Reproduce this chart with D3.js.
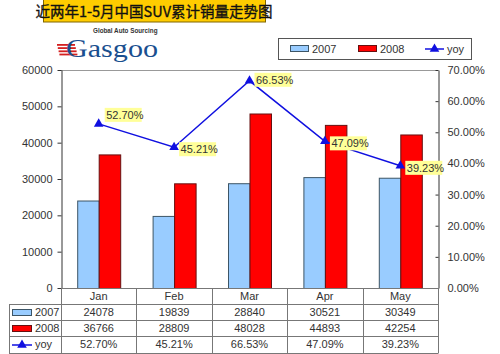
<!DOCTYPE html>
<html>
<head>
<meta charset="utf-8">
<script src="https://cdn.jsdelivr.net/npm/d3@7"></script>
<style>
  body { margin: 0; background: #fff; }
  svg { display: block; font-family: "Liberation Sans", Arial, sans-serif; }
</style>
</head>
<body>
<svg id="chart" width="500" height="354"></svg>
<script>
const title = '近两年1-5月中国SUV累计销量走势图'
const months = ['Jan', 'Feb', 'Mar', 'Apr', 'May']
const sales2007 = [24078, 19839, 28840, 30521, 30349]
const sales2008 = [36766, 28809, 48028, 44893, 42254]
const yoy = [52.70, 45.21, 66.53, 47.09, 39.23]
const leftTicks = [0, 10000, 20000, 30000, 40000, 50000, 60000]
const rightTicks = [0, 10, 20, 30, 40, 50, 60, 70]
const seriesNames = ['2007', '2008', 'yoy']

const blue = '#99ccff'
const red = '#ff0000'
const lineBlue = '#1010e0'
const textColor = '#333'
const gridColor = '#999'

const svg = d3.select('#chart')

const plotLeft = 61
const plotRight = 438
const plotTop = 70
const plotBottom = 288

const x = d3.scaleBand().domain(months).range([plotLeft, plotRight])
const xs = d3.scaleBand().domain(['2007', '2008']).range([0, 43])
const y = d3.scaleLinear().domain([0, 60000]).range([plotBottom, plotTop])
const y2 = d3.scaleLinear().domain([0, 70]).range([plotBottom, plotTop])

// title
svg.append('rect')
  .attr('x', 43.5).attr('y', -1).attr('width', 222).attr('height', 23)
  .attr('fill', '#ffcc00').attr('stroke', '#806600')
svg.append('text')
  .attr('x', 154).attr('y', 16.5)
  .attr('text-anchor', 'middle')
  .attr('font-family', '"Noto Sans CJK SC", sans-serif')
  .attr('font-size', 14.5)
  .attr('fill', '#111').attr('stroke', '#111').attr('stroke-width', 0.35)
  .text(title)

// logo
const logo = svg.append('g')
logo.selectAll('rect.stripe')
  .data([0, 1, 2, 3])
  .enter()
  .append('rect')
  .attr('x', (d) => 57 + d * 0.8).attr('y', (d) => 44 + d * 3.2)
  .attr('width', 18).attr('height', 1.8)
  .attr('fill', '#d42020')
logo.append('text')
  .attr('x', 66).attr('y', 57)
  .attr('font-family', '"Liberation Serif", "DejaVu Serif", serif')
  .attr('font-size', 25).attr('fill', '#1a4f8f')
  .attr('textLength', 92).attr('lengthAdjust', 'spacingAndGlyphs')
  .text('Gasgoo')
logo.append('text')
  .attr('x', 93).attr('y', 33)
  .attr('font-size', 6.3).attr('font-weight', 'bold').attr('fill', '#333')
  .text('Global Auto Sourcing')

// plot frame
svg.append('line')
  .attr('x1', plotLeft).attr('x2', plotRight).attr('y1', plotTop + 0.5).attr('y2', plotTop + 0.5)
  .attr('stroke', gridColor)

// left axis
const yAxis = svg.append('g')
  .attr('transform', `translate(${plotLeft + 0.5},0)`)
  .call(d3.axisLeft(y).tickValues(leftTicks).tickSize(4).tickPadding(5).tickSizeOuter(0)
    .tickFormat(d3.format('d')))
yAxis.select('.domain').attr('stroke', '#333')
yAxis.selectAll('line').attr('stroke', '#333')
yAxis.selectAll('text').attr('font-size', 11).attr('fill', textColor)
  .attr('font-family', '"Liberation Sans", Arial, sans-serif')

// right axis
const y2Axis = svg.append('g')
  .attr('transform', `translate(${plotRight + 0.5},0)`)
  .call(d3.axisRight(y2).tickValues(rightTicks).tickSize(-3).tickPadding(9).tickSizeOuter(0)
    .tickFormat((d) => d.toFixed(2) + '%'))
y2Axis.select('.domain').attr('stroke', '#333')
y2Axis.selectAll('line').attr('stroke', '#333')
y2Axis.selectAll('text').attr('font-size', 11).attr('fill', textColor)
  .attr('font-family', '"Liberation Sans", Arial, sans-serif')

// bars
const bars = svg.append('g')
const pad = (x.bandwidth() - 43) / 2
bars.selectAll('rect.b07')
  .data(sales2007)
  .enter()
  .append('rect')
  .attr('x', (d, i) => x(months[i]) + pad + xs('2007') + 0.5)
  .attr('y', (d) => y(d) + 0.5)
  .attr('width', xs.bandwidth())
  .attr('height', (d) => plotBottom - y(d))
  .attr('fill', blue).attr('stroke', '#3d5566')
bars.selectAll('rect.b08')
  .data(sales2008)
  .enter()
  .append('rect')
  .attr('x', (d, i) => x(months[i]) + pad + xs('2008') + 0.5)
  .attr('y', (d) => y(d) + 0.5)
  .attr('width', xs.bandwidth())
  .attr('height', (d) => plotBottom - y(d))
  .attr('fill', red).attr('stroke', '#661010')

// yoy line
const cx = (i) => x(months[i]) + x.bandwidth() / 2
const line = d3.line().x((d, i) => cx(i)).y((d) => y2(d))
svg.append('path')
  .attr('d', line(yoy))
  .attr('fill', 'none').attr('stroke', lineBlue).attr('stroke-width', 1.5)
const tri = d3.symbol().type(d3.symbolTriangle).size(40)
svg.selectAll('path.mark')
  .data(yoy)
  .enter()
  .append('path')
  .attr('d', tri)
  .attr('transform', (d, i) => `translate(${cx(i)},${y2(d)})`)
  .attr('fill', lineBlue)

// data labels
const labels = svg.append('g')
yoy.forEach((d, i) => {
  const px = cx(i)
  const py = y2(d)
  // first label sits above the marker, the others beside it
  const lx = i === 0 ? px + 6 : px + 5
  const ly = i === 0 ? py - 16 : (i === 2 ? py - 8 : py - 5)
  labels.append('rect')
    .attr('x', lx).attr('y', ly).attr('width', 37).attr('height', 14)
    .attr('fill', '#ffff99')
  labels.append('text')
    .attr('x', lx + 1.5).attr('y', ly + 11)
    .attr('font-size', 11).attr('fill', textColor)
    .text(d.toFixed(2) + '%')
})

// legend
const legend = svg.append('g')
legend.append('rect')
  .attr('x', 278.5).attr('y', 38.5).attr('width', 193).attr('height', 21)
  .attr('fill', '#fff').attr('stroke', '#555')
const legendX = [290, 358, 425]
legend.append('rect')
  .attr('x', legendX[0] + 0.5).attr('y', 45.5).attr('width', 18).attr('height', 6)
  .attr('fill', blue).attr('stroke', '#3d5566')
legend.append('rect')
  .attr('x', legendX[1] + 0.5).attr('y', 45.5).attr('width', 18).attr('height', 6)
  .attr('fill', red).attr('stroke', '#661010')
legend.append('line')
  .attr('x1', legendX[2]).attr('x2', legendX[2] + 19).attr('y1', 49).attr('y2', 49)
  .attr('stroke', lineBlue).attr('stroke-width', 1.5)
legend.append('path')
  .attr('d', tri).attr('transform', `translate(${legendX[2] + 9.5},49)`).attr('fill', lineBlue)
legend.selectAll('text')
  .data(seriesNames)
  .enter()
  .append('text')
  .attr('x', (d, i) => legendX[i] + 22)
  .attr('y', 53)
  .attr('font-size', 11).attr('fill', textColor)
  .text((d) => d)

// data table
const table = svg.append('g')
const rowY = [288, 304, 320, 336, 353]
const tableLeft = 9
const rows = [sales2007.map(String), sales2008.map(String), yoy.map((d) => d.toFixed(2) + '%')]
const tc = '#777'
// horizontal lines
rowY.forEach((ry, k) => {
  table.append('line')
    .attr('x1', k === 0 ? plotLeft : tableLeft).attr('x2', plotRight)
    .attr('y1', ry + 0.5).attr('y2', ry + 0.5)
    .attr('stroke', tc)
})
// vertical lines
table.append('line')
  .attr('x1', tableLeft + 0.5).attr('x2', tableLeft + 0.5)
  .attr('y1', rowY[1]).attr('y2', rowY[4] + 0.5).attr('stroke', tc)
months.forEach((m) => {
  table.append('line')
    .attr('x1', Math.round(x(m)) + 0.5).attr('x2', Math.round(x(m)) + 0.5)
    .attr('y1', rowY[0]).attr('y2', rowY[4] + 0.5).attr('stroke', tc)
})
table.append('line')
  .attr('x1', plotRight + 0.5).attr('x2', plotRight + 0.5)
  .attr('y1', rowY[0]).attr('y2', rowY[4] + 0.5).attr('stroke', tc)
// header
table.selectAll('text.month')
  .data(months)
  .enter()
  .append('text')
  .attr('x', (d) => x(d) + x.bandwidth() / 2)
  .attr('y', rowY[0] + 12)
  .attr('text-anchor', 'middle')
  .attr('font-size', 11).attr('fill', textColor)
  .text((d) => d)
rows.forEach((r, k) => {
  table.selectAll('text.r' + k)
    .data(r)
    .enter()
    .append('text')
    .attr('x', (d, i) => x(months[i]) + x.bandwidth() / 2)
    .attr('y', rowY[k + 1] + 12)
    .attr('text-anchor', 'middle')
    .attr('font-size', 11).attr('fill', textColor)
    .text((d) => d)
  table.append('text')
    .attr('x', 35).attr('y', rowY[k + 1] + 12)
    .attr('font-size', 11).attr('fill', textColor)
    .text(seriesNames[k])
})
// row keys
table.append('rect')
  .attr('x', 12.5).attr('y', rowY[1] + 5.5).attr('width', 19).attr('height', 6)
  .attr('fill', blue).attr('stroke', '#3d5566')
table.append('rect')
  .attr('x', 12.5).attr('y', rowY[2] + 5.5).attr('width', 19).attr('height', 6)
  .attr('fill', red).attr('stroke', '#661010')
table.append('line')
  .attr('x1', 12).attr('x2', 32).attr('y1', rowY[3] + 9).attr('y2', rowY[3] + 9)
  .attr('stroke', lineBlue).attr('stroke-width', 1.5)
table.append('path')
  .attr('d', tri).attr('transform', `translate(22,${rowY[3] + 9})`).attr('fill', lineBlue)
</script>
</body>
</html>
